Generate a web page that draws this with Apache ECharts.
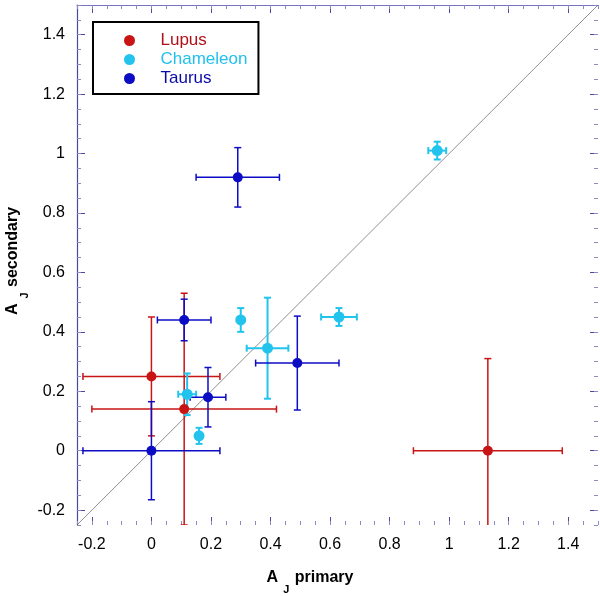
<!DOCTYPE html>
<html>
<head>
<meta charset="utf-8">
<script src="https://cdn.jsdelivr.net/npm/echarts@6/dist/echarts.min.js"></script>
<style>
html,body{margin:0;padding:0;background:#fff;}
#chart{width:600px;height:596px;}
</style>
</head>
<body>
<div id="chart"></div>
<script>
// ---- data: [x (A_J primary), y (A_J secondary), x error, y error] ----
const lupus = [
  [0.00, 0.25, 0.23, 0.20],
  [0.11, 0.14, 0.31, 0.39],
  [1.13, 0.00, 0.25, 0.31]
];
const chameleon = [
  [0.96, 1.01, 0.03, 0.03],
  [0.30, 0.44, 0.00, 0.04],
  [0.39, 0.345, 0.07, 0.17],
  [0.63, 0.45, 0.06, 0.03],
  [0.12, 0.19, 0.03, 0.07],
  [0.16, 0.05, 0.00, 0.027]
];
const taurus = [
  [0.29, 0.92, 0.14, 0.10],
  [0.11, 0.44, 0.09, 0.07],
  [0.19, 0.18, 0.06, 0.10],
  [0.49, 0.295, 0.14, 0.158],
  [0.00, 0.00, 0.23, 0.165]
];
const groupNames = ['Lupus', 'Chameleon', 'Taurus'];
const majorTicks = [-0.2, 0, 0.2, 0.4, 0.6, 0.8, 1, 1.2, 1.4];
const axisMin = -0.25;
const axisMax = 1.5;
const minorStep = 0.05;
const diagonal = [[-0.25, -0.25], [1.5, 1.5]];

const FONT = "'Liberation Sans', Arial, sans-serif";
const colors = { Lupus: '#c81414', Chameleon: '#22c4ee', Taurus: '#0c0cc4' };
const textColors = { Lupus: '#b01018', Chameleon: '#22c0ec', Taurus: '#0a0aa8' };
const barWidth = { Lupus: 1.5, Chameleon: 2, Taurus: 1.5 };

function errorRenderer(color, lw) {
  return function (params, api) {
    const x = api.value(0), y = api.value(1), ex = api.value(2), ey = api.value(3);
    const cap = 3.5;
    const style = { stroke: color, lineWidth: lw, fill: null };
    const children = [];
    if (ey > 0) {
      const t = api.coord([x, y + ey]);
      const b = api.coord([x, y - ey]);
      children.push({ type: 'line', shape: { x1: t[0], y1: t[1], x2: b[0], y2: b[1] }, style: style });
      children.push({ type: 'line', shape: { x1: t[0] - cap, y1: t[1], x2: t[0] + cap, y2: t[1] }, style: style });
      children.push({ type: 'line', shape: { x1: b[0] - cap, y1: b[1], x2: b[0] + cap, y2: b[1] }, style: style });
    }
    if (ex > 0) {
      const l = api.coord([x - ex, y]);
      const r = api.coord([x + ex, y]);
      children.push({ type: 'line', shape: { x1: l[0], y1: l[1], x2: r[0], y2: r[1] }, style: style });
      children.push({ type: 'line', shape: { x1: l[0], y1: l[1] - cap, x2: l[0], y2: l[1] + cap }, style: style });
      children.push({ type: 'line', shape: { x1: r[0], y1: r[1] - cap, x2: r[0], y2: r[1] + cap }, style: style });
    }
    return { type: 'group', children: children };
  };
}

const majorColor = '#4a4aa0';
const minorColor = '#8a8ac4';

function makeAxis(dim, position, kind) {
  const isMajor = kind === 'major';
  const ax = {
    type: 'value',
    position: position,
    min: axisMin,
    max: axisMax,
    splitLine: { show: false },
    axisLine: { show: false, onZero: false },
    axisTick: {
      show: true, inside: true,
      length: isMajor ? 8 : 4,
      lineStyle: { color: isMajor ? majorColor : minorColor, width: 1 }
    },
    axisLabel: { show: false }
  };
  if (isMajor) {
    ax.axisTick.customValues = majorTicks;
    if (position === 'bottom' || position === 'left') {
      ax.axisLabel = {
        show: true, customValues: majorTicks,
        fontSize: 16, fontFamily: FONT, color: '#000',
        margin: 12,
        formatter: function (v) { return String(Math.round(v * 100) / 100); }
      };
    }
    if (position === 'left') {
      ax.axisLine = { show: true, onZero: false, lineStyle: { color: '#4a4aa0', width: 1.2 } };
    }
    if (position === 'top') {
      ax.axisLine = { show: true, onZero: false, lineStyle: { color: '#7474c0', width: 1.2 } };
    }
  } else {
    ax.interval = minorStep;
  }
  return ax;
}

const series = [];
series.push({
  type: 'line',
  data: diagonal,
  symbol: 'none',
  silent: true,
  z: 1,
  lineStyle: { color: '#444', width: 0.6 },
  xAxisIndex: 0, yAxisIndex: 0
});
const groups = { Lupus: lupus, Chameleon: chameleon, Taurus: taurus };
groupNames.forEach(function (name) {
  series.push({
    type: 'custom',
    name: name + ' errors',
    data: groups[name],
    clip: true,
    z: 2,
    silent: true,
    renderItem: errorRenderer(colors[name], barWidth[name]),
    encode: { x: 0, y: 1 },
    xAxisIndex: 0, yAxisIndex: 0
  });
});
groupNames.forEach(function (name) {
  series.push({
    type: 'scatter',
    name: name,
    data: groups[name].map(function (d) { return [d[0], d[1]]; }),
    symbol: 'circle',
    symbolSize: name === 'Chameleon' ? 11 : 10,
    itemStyle: { color: colors[name], opacity: 1 },
    z: 3,
    xAxisIndex: 0, yAxisIndex: 0
  });
});

const chart = echarts.init(document.getElementById('chart'), null, { renderer: 'canvas' });
chart.setOption({
  backgroundColor: '#fff',
  animation: false,
  grid: { left: 77, right: 2, top: 5, bottom: 71, containLabel: false },
  xAxis: [
    makeAxis('x', 'bottom', 'major'),
    makeAxis('x', 'bottom', 'minor'),
    makeAxis('x', 'top', 'major'),
    makeAxis('x', 'top', 'minor')
  ],
  yAxis: [
    makeAxis('y', 'left', 'major'),
    makeAxis('y', 'left', 'minor'),
    makeAxis('y', 'right', 'major'),
    makeAxis('y', 'right', 'minor')
  ],
  legend: {
    orient: 'vertical',
    left: 93, top: 22,
    data: groupNames.map(function (n) {
      return { name: n, icon: 'circle', textStyle: { color: textColors[n] } };
    }),
    itemWidth: 52, itemHeight: 11, itemGap: 0,
    padding: [9, 11, 6, 31],
    borderColor: '#000', borderWidth: 2,
    backgroundColor: '#fff',
    selectedMode: false,
    textStyle: { fontSize: 17, fontFamily: FONT, lineHeight: 19 }
  },
  graphic: [
    {
      type: 'text', x: 310, y: 578, z: 10,
      style: {
        text: '{a|A}{s|J}{a| primary}',
        align: 'center', verticalAlign: 'middle',
        rich: {
          a: { fontSize: 16, fontWeight: 'bold', fontFamily: FONT, fill: '#000', lineHeight: 34, verticalAlign: 'middle' },
          s: { fontSize: 11, fontWeight: 'bold', fontFamily: FONT, fill: '#000', verticalAlign: 'bottom', padding: [0, 1, 0, 5] }
        }
      }
    },
    {
      type: 'text', x: 13, y: 261, rotation: Math.PI / 2, z: 10,
      style: {
        text: '{a|A}{s|J}{a| secondary}',
        align: 'center', verticalAlign: 'middle',
        rich: {
          a: { fontSize: 16, fontWeight: 'bold', fontFamily: FONT, fill: '#000', lineHeight: 34, verticalAlign: 'middle' },
          s: { fontSize: 11, fontWeight: 'bold', fontFamily: FONT, fill: '#000', verticalAlign: 'bottom', padding: [0, 1, 0, 5] }
        }
      }
    }
  ],
  series: series
});
</script>
</body>
</html>
